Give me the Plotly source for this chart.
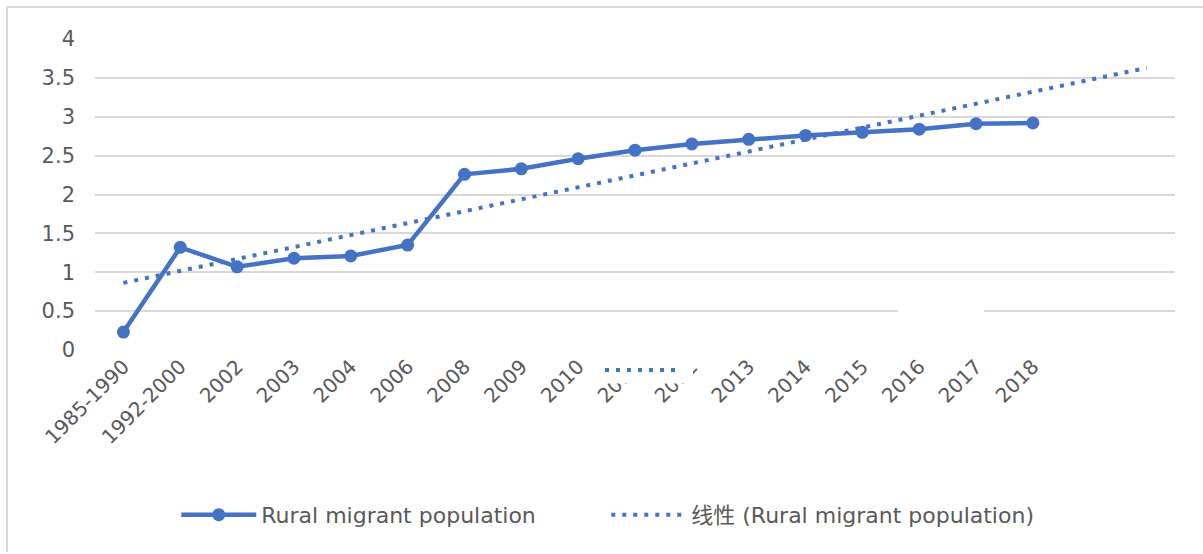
import numpy as np
import plotly.graph_objects as go

categories = ["1985-1990", "1992-2000", "2002", "2003", "2004", "2006", "2008",
              "2009", "2010", "2011", "2012", "2013", "2014", "2015", "2016",
              "2017", "2018"]
population = [0.23, 1.32, 1.07, 1.18, 1.21, 1.35, 2.26, 2.33, 2.46, 2.57,
              2.65, 2.71, 2.76, 2.80, 2.84, 2.91, 2.92]
forecast_periods = 2
y_ticks = [0, 0.5, 1, 1.5, 2, 2.5, 3, 3.5, 4]
y_tick_labels = ["0", "0.5", "1", "1.5", "2", "2.5", "3", "3.5", "4"]
series_name = "Rural migrant population"
trend_name = "线性 (Rural migrant population)"

BLUE = "#4472C4"
GRID = "#D9D9D9"
TEXT = "#595959"
FONT = "DejaVu Sans, Noto Sans CJK SC, sans-serif"

x_idx = np.arange(len(categories))
slope, intercept = np.polyfit(x_idx, population, 1)
x_trend = np.arange(len(categories) + forecast_periods)
y_trend = intercept + slope * x_trend

fig = go.Figure()
fig.add_trace(go.Scatter(
    x=x_idx, y=population, name=series_name, mode="lines+markers",
    line=dict(color=BLUE, width=4.5),
    marker=dict(color=BLUE, size=13),
))
fig.add_trace(go.Scatter(
    x=x_trend, y=y_trend, name=trend_name, mode="lines",
    line=dict(color=BLUE, width=4, dash="4px,7px"),
))

shapes = [
    # chart frame (top and left edges)
    dict(type="line", xref="paper", yref="paper", x0=-0.0815, x1=1.03,
         y0=1.103, y1=1.103, line=dict(color=GRID, width=2), layer="below"),
    dict(type="line", xref="paper", yref="paper", x0=-0.0815, x1=-0.0815,
         y0=1.103, y1=-0.65, line=dict(color=GRID, width=2), layer="below"),
    # pasted patches visible in the original image
    dict(type="rect", xref="paper", yref="paper", x0=0.4602, x1=0.5537,
         y0=0.02, y1=-0.108, fillcolor="white", line=dict(width=0), layer="above"),
    dict(type="rect", xref="paper", yref="paper", x0=0.7435, x1=0.8231,
         y0=0.145, y1=0.105, fillcolor="white", line=dict(width=0), layer="above"),
    dict(type="line", xref="paper", yref="paper", x0=0.4722, x1=0.5435,
         y0=-0.0643, y1=-0.0643, line=dict(color=BLUE, width=4, dash="4px,7px"),
         layer="above"),
]

fig.update_layout(
    width=1203, height=554,
    margin=dict(l=95, r=28, t=39, b=204),
    paper_bgcolor="white", plot_bgcolor="white",
    font=dict(family=FONT, color=TEXT, size=20),
    showlegend=True,
    legend=dict(orientation="h", x=0.4734, xanchor="center", y=-0.53,
                yanchor="middle", font=dict(size=22, color=TEXT),
                itemwidth=75, tracegroupgap=0, entrywidth=340,
                entrywidthmode="pixels"),
    xaxis=dict(range=[-0.5, len(categories) + forecast_periods - 0.5],
               tickvals=list(x_idx), ticktext=categories, tickangle=-45,
               showgrid=False, zeroline=False, showline=False, ticks="",
               tickfont=dict(size=20, color=TEXT)),
    yaxis=dict(range=[0, 4], tickvals=y_ticks, ticktext=y_tick_labels,
               showgrid=True, gridcolor=GRID, gridwidth=2, zeroline=False,
               showline=False, ticks="", ticklabelstandoff=19,
               tickfont=dict(size=21, color=TEXT)),
    shapes=shapes,
)

fig.write_html("out.html")
